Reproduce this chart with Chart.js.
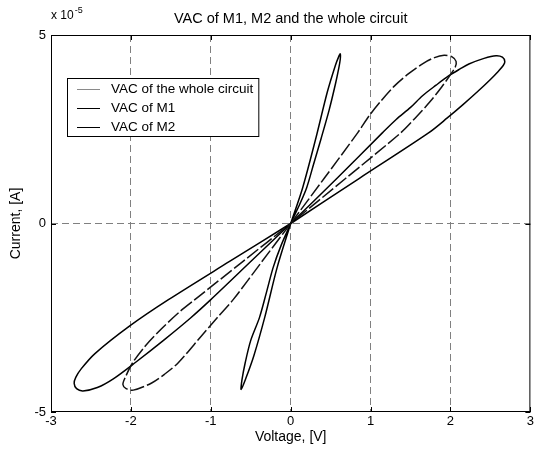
<!DOCTYPE html>
<html>
<head>
<meta charset="utf-8">
<script src="https://cdn.jsdelivr.net/npm/chart.js@4.4.0/dist/chart.umd.min.js"></script>
<style>
  html, body { margin: 0; padding: 0; background: #fff; }
  canvas { display: block; }
</style>
</head>
<body>
<canvas id="vacChart" width="536" height="452"></canvas>
<script>
// values: voltage in V, current in units of 1e-5 A
// null splits the positive and the negative lobe of a loop
const circuitVoltage = [0, 0.42, 0.84, 0.98, 1.13, 1.30, 1.48, 1.66, 1.80, 1.92, 2.02, 2.07, 2.06, 2.00, 1.89, 1.74, 1.56, 1.38, 0.69, 0, null,
  0, -0.36, -0.72, -0.92, -1.12, -1.41, -1.58, -1.74, -1.97, -2.06, -2.10, -2.07, -1.98, -1.82, -1.62, -1.40, -1.20, -0.60, 0];
const circuitCurrent = [0, 1.20, 2.41, 2.85, 3.25, 3.65, 3.98, 4.25, 4.40, 4.46, 4.42, 4.30, 4.15, 3.95, 3.62, 3.22, 2.80, 2.41, 1.20, 0, null,
  0, -1.01, -2.02, -2.50, -2.99, -3.70, -4.00, -4.23, -4.42, -4.38, -4.27, -4.08, -3.70, -3.25, -2.80, -2.36, -2.02, -1.01, 0];

const m1Voltage = [0, 0.15, 0.31, 0.46, 0.56, 0.60, 0.62, 0.62, 0.60, 0.56, 0.48, 0.38, 0.29, 0.20, 0.10, 0, null,
  0, -0.17, -0.325, -0.46, -0.56, -0.62, -0.61, -0.57, -0.50, -0.39, -0.30, -0.22, -0.12, 0];
const m1Current = [0, 0.95, 2.22, 3.50, 4.20, 4.42, 4.50, 4.35, 4.10, 3.70, 3.00, 2.25, 1.60, 0.95, 0.45, 0, null,
  0, -1.17, -2.49, -3.50, -4.10, -4.40, -4.15, -3.70, -3.10, -2.49, -1.80, -1.17, -0.58, 0];

const m2Voltage = [0, 0.58, 1.15, 1.32, 1.50, 1.65, 1.82, 1.98, 2.12, 2.23, 2.42, 2.57, 2.65, 2.68, 2.66, 2.60, 2.49, 2.34, 2.16, 1.96, 1.73, 0.86, 0, null,
  0, -0.50, -1.00, -1.25, -1.58, -1.94, -2.22, -2.42, -2.60, -2.68, -2.71, -2.69, -2.62, -2.45, -2.01, -1.53, -0.76, 0];
const m2Current = [0, 1.20, 2.41, 2.76, 3.08, 3.39, 3.67, 3.92, 4.10, 4.23, 4.38, 4.45, 4.41, 4.29, 4.19, 4.04, 3.80, 3.50, 3.16, 2.80, 2.41, 1.20, 0, null,
  0, -1.01, -2.02, -2.50, -3.08, -3.68, -4.12, -4.35, -4.44, -4.38, -4.24, -4.08, -3.85, -3.45, -2.71, -2.02, -1.00, 0];

const xTicks = [-3, -2, -1, 0, 1, 2, 3];
const yTicks = [-5, 0, 5];
const seriesLabels = ["VAC of the whole circuit", "VAC of M1", "VAC of M2"];
const legendColors = ["#8a8a8a", "#000", "#000"];
const chartTitle = "VAC of M1, M2 and the whole circuit";
const xTitle = "Voltage, [V]";
const yTitle = "Current, [A]";
const yExponent = "-5";

const fontFamily = "'Liberation Sans', Arial, Helvetica, sans-serif";
Chart.defaults.font.family = fontFamily;
Chart.defaults.color = "#000";

const toPoints = (xs, ys) =>
  xs.map((v, i) => (v === null ? { x: NaN, y: NaN } : { x: v, y: ys[i] }));

// axes box, inward ticks, texts and legend in matlab style
const figurePlugin = {
  id: "figure",
  afterDraw(chart) {
    const { ctx, chartArea: a } = chart;
    const xs = chart.scales.x;
    const ys = chart.scales.y;
    ctx.save();
    ctx.strokeStyle = "#000";
    ctx.lineWidth = 1;
    ctx.setLineDash([]);
    ctx.strokeRect(a.left + 0.5, a.top + 0.5, a.right - a.left - 1, a.bottom - a.top - 1);

    ctx.beginPath();
    xTicks.forEach((v) => {
      const px = Math.round(xs.getPixelForValue(v)) + 0.5;
      ctx.moveTo(px, a.bottom); ctx.lineTo(px, a.bottom - 5);
      ctx.moveTo(px, a.top); ctx.lineTo(px, a.top + 5);
    });
    yTicks.forEach((v) => {
      const py = Math.round(ys.getPixelForValue(v)) + 0.5;
      ctx.moveTo(a.left, py); ctx.lineTo(a.left + 5, py);
      ctx.moveTo(a.right, py); ctx.lineTo(a.right - 5, py);
    });
    ctx.stroke();

    ctx.fillStyle = "#000";
    ctx.textAlign = "center";
    ctx.textBaseline = "alphabetic";
    ctx.font = "14.5px " + fontFamily;
    ctx.fillText(chartTitle, (a.left + a.right) / 2, 23);
    ctx.font = "14px " + fontFamily;
    ctx.fillText(xTitle, (a.left + a.right) / 2, 441);

    ctx.save();
    ctx.translate(20, (a.top + a.bottom) / 2);
    ctx.rotate(-Math.PI / 2);
    ctx.fillText(yTitle, 0, 0);
    ctx.restore();

    // exponent label
    ctx.textAlign = "left";
    ctx.font = "12px " + fontFamily;
    ctx.fillText("x 10", a.left, 19);
    const w = ctx.measureText("x 10").width;
    ctx.font = "9px " + fontFamily;
    ctx.fillText(yExponent, a.left + w + 1, 13);

    // legend
    ctx.font = "13.5px " + fontFamily;
    const textW = Math.max(...seriesLabels.map((s) => ctx.measureText(s).width));
    const boxL = 67, boxT = 78, boxB = 136;
    const textX = 111;
    const boxR = textX + textW + 5;
    ctx.fillStyle = "#fff";
    ctx.fillRect(boxL, boxT, boxR - boxL, boxB - boxT);
    ctx.strokeStyle = "#000";
    ctx.strokeRect(boxL + 0.5, boxT + 0.5, boxR - boxL, boxB - boxT);
    const rows = [89, 108, 127];
    ctx.textBaseline = "middle";
    seriesLabels.forEach((label, i) => {
      ctx.strokeStyle = legendColors[i];
      ctx.beginPath();
      ctx.moveTo(77, rows[i] + 0.5);
      ctx.lineTo(100, rows[i] + 0.5);
      ctx.stroke();
      ctx.fillStyle = "#000";
      ctx.fillText(label, textX, rows[i]);
    });
    ctx.restore();
  },
};

const gridColor = (ctx, ends) => (ends.includes(ctx.tick.value) ? "rgba(0,0,0,0)" : "#808080");

new Chart(document.getElementById("vacChart").getContext("2d"), {
  type: "scatter",
  data: {
    datasets: [
      {
        label: seriesLabels[0],
        data: toPoints(circuitVoltage, circuitCurrent),
        borderColor: "#111",
        borderDash: [14, 3],
        borderWidth: 1.5,
      },
      {
        label: seriesLabels[1],
        data: toPoints(m1Voltage, m1Current),
        borderColor: "#000",
        borderWidth: 1.5,
      },
      {
        label: seriesLabels[2],
        data: toPoints(m2Voltage, m2Current),
        borderColor: "#000",
        borderWidth: 1.5,
      },
    ],
  },
  options: {
    responsive: false,
    animation: false,
    showLine: true,
    spanGaps: false,
    elements: {
      point: { radius: 0 },
      line: { tension: 0.3, fill: false },
    },
    layout: { padding: { left: 0, top: 35, right: 5, bottom: 0 } },
    scales: {
      x: {
        type: "linear",
        min: -3,
        max: 3,
        afterBuildTicks: (scale) => { scale.ticks = xTicks.map((v) => ({ value: v })); },
        afterFit: (scale) => { scale.height = 40; },
        ticks: { padding: 2, font: { size: 13 }, color: "#000" },
        grid: { drawTicks: false, color: (ctx) => gridColor(ctx, [-3, 3]), lineWidth: 1 },
        border: { display: false, dash: [7, 4] },
      },
      y: {
        type: "linear",
        min: -5,
        max: 5,
        afterBuildTicks: (scale) => { scale.ticks = yTicks.map((v) => ({ value: v })); },
        afterFit: (scale) => { scale.width = 51; },
        ticks: { padding: 5, font: { size: 13 }, color: "#000" },
        grid: { drawTicks: false, color: (ctx) => gridColor(ctx, [-5, 5]), lineWidth: 1 },
        border: { display: false, dash: [7, 4] },
      },
    },
    plugins: {
      legend: { display: false },
      tooltip: { enabled: false },
      title: { display: false },
    },
  },
  plugins: [figurePlugin],
});
</script>
</body>
</html>
